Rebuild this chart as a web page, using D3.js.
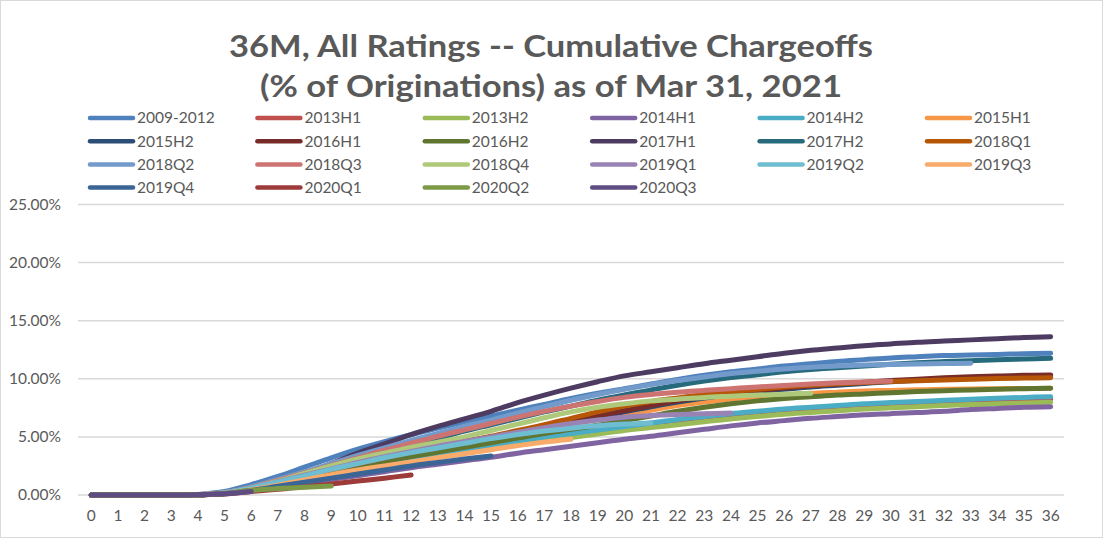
<!DOCTYPE html>
<html>
<head>
<meta charset="utf-8">
<script src="https://cdn.jsdelivr.net/npm/d3@7"></script>
<style>
  html, body { margin: 0; padding: 0; background: #fff; }
  svg { display: block; }
  text { font-family: Lato, "Open Sans", "Liberation Sans", sans-serif; fill: #595959; }
</style>
</head>
<body>
<svg id="chart" width="1103" height="538"></svg>
<script>
// ---------- data ----------
const titleLines = ["36M, All Ratings -- Cumulative Chargeoffs", "(% of Originations) as of Mar 31, 2021"];
const months = d3.range(0, 37);
const xTickLabels = months.map(String);
const yTicks = [0, 5, 10, 15, 20, 25];

const seriesNames = ["2009-2012","2013H1","2013H2","2014H1","2014H2","2015H1",
  "2015H2","2016H1","2016H2","2017H1","2017H2","2018Q1",
  "2018Q2","2018Q3","2018Q4","2019Q1","2019Q2","2019Q3",
  "2019Q4","2020Q1","2020Q2","2020Q3"];
const seriesColors = ["#4F81BD","#C0504D","#9BBB59","#8064A2","#4BACC6","#F79646",
  "#2C4D75","#772C2A","#5F7530","#4D3B62","#276A7C","#B65708",
  "#729ACA","#CD7371","#AFC97A","#9983B5","#6FBDD1","#F9AB6B",
  "#3A6595","#9C3B39","#7D9A46","#5F4C82"];

// cumulative chargeoffs, % of originations, by months on book (0..)
const v2009_2012 = [0,0,0,0,0.05,0.3,0.9,1.6,2.4,3.2,3.95,4.6,5.2,5.75,6.3,6.8,7.3,7.8,8.3,8.75,9.15,9.55,9.95,10.3,10.6,10.85,11.1,11.3,11.5,11.65,11.8,11.9,12.0,12.05,12.1,12.15,12.2];
const v2013H1 = [0,0,0,0,0.02,0.12,0.45,0.9,1.4,1.85,2.3,2.75,3.15,3.55,3.9,4.25,4.6,4.9,5.2,5.5,5.8,6.05,6.3,6.55,6.8,7.0,7.2,7.35,7.5,7.65,7.8,7.9,8.0,8.08,8.15,8.2,8.25];
const v2013H2 = [0,0,0,0,0.02,0.12,0.42,0.85,1.3,1.75,2.2,2.6,3.0,3.35,3.7,4.0,4.35,4.65,4.95,5.25,5.55,5.8,6.05,6.3,6.55,6.75,6.95,7.1,7.25,7.4,7.5,7.6,7.7,7.78,7.85,7.92,7.98];
const v2014H1 = [0,0,0,0,0.02,0.1,0.35,0.65,1.0,1.35,1.65,2.0,2.35,2.65,2.95,3.25,3.6,3.9,4.2,4.5,4.8,5.05,5.35,5.65,5.95,6.2,6.4,6.6,6.75,6.9,7.0,7.1,7.2,7.35,7.45,7.55,7.6];
const v2014H2 = [0,0,0,0,0.02,0.12,0.45,0.9,1.4,1.9,2.35,2.8,3.2,3.6,3.95,4.3,4.65,5.0,5.3,5.6,5.9,6.2,6.5,6.75,7.0,7.2,7.4,7.55,7.7,7.85,7.95,8.05,8.15,8.25,8.33,8.4,8.46];
const v2015H1 = [0,0,0,0,0.02,0.15,0.5,1.0,1.55,2.1,2.65,3.15,3.65,4.1,4.55,4.95,5.35,5.75,6.1,6.5,6.9,7.3,7.7,8.0,8.25,8.45,8.6,8.75,8.85,8.95,9.0,9.05,9.1,9.13,9.15,9.17,9.18];
const v2015H2 = [0,0,0,0,0.02,0.14,0.48,0.97,1.5,2.05,2.6,3.1,3.6,4.05,4.5,4.95,5.4,5.85,6.3,6.7,7.15,7.6,8.0,8.35,8.65,8.9,9.1,9.3,9.45,9.6,9.75,9.87,9.98,10.07,10.14,10.2,10.25];
const v2016H1 = [0,0,0,0,0.02,0.15,0.5,1.0,1.55,2.1,2.65,3.15,3.65,4.1,4.55,5.0,5.45,5.9,6.35,6.8,7.25,7.7,8.1,8.45,8.75,9.0,9.2,9.4,9.55,9.7,9.85,9.97,10.08,10.17,10.24,10.3,10.33];
const v2016H2 = [0,0,0,0,0.02,0.12,0.45,0.9,1.4,1.9,2.4,2.85,3.3,3.7,4.1,4.5,4.9,5.3,5.65,6.0,6.4,6.8,7.2,7.55,7.85,8.1,8.3,8.45,8.6,8.7,8.8,8.9,8.98,9.04,9.1,9.15,9.18];
const v2017H1 = [0,0,0,0,0.02,0.12,0.4,1.0,1.8,2.7,3.6,4.4,5.2,5.9,6.55,7.2,7.95,8.6,9.2,9.75,10.25,10.6,10.95,11.3,11.6,11.9,12.2,12.45,12.65,12.85,13.0,13.15,13.25,13.35,13.45,13.55,13.62];
const v2017H2 = [0,0,0,0,0.02,0.15,0.55,1.1,1.75,2.4,3.05,3.7,4.3,4.9,5.5,6.05,6.6,7.15,7.65,8.15,8.6,9.05,9.45,9.8,10.1,10.35,10.6,10.8,10.95,11.1,11.25,11.38,11.48,11.56,11.64,11.7,11.76];
const v2018Q1 = [0,0,0,0,0.02,0.15,0.5,1.0,1.6,2.15,2.7,3.2,3.7,4.15,4.6,5.05,5.55,6.05,6.6,7.15,7.65,8.05,8.35,8.65,8.9,9.1,9.3,9.45,9.58,9.68,9.76,9.83,9.9,9.96,10.02,10.06,10.1];
const v2018Q2 = [0,0,0,0,0.03,0.2,0.7,1.35,2.0,2.7,3.4,4.05,4.7,5.3,5.9,6.45,7.05,7.6,8.15,8.65,9.1,9.5,9.85,10.15,10.45,10.65,10.85,11.0,11.1,11.18,11.24,11.28,11.31,11.33];
const v2018Q3 = [0,0,0,0,0.03,0.2,0.65,1.25,1.9,2.55,3.2,3.85,4.45,5.05,5.6,6.15,6.7,7.2,7.65,8.05,8.4,8.65,8.85,9.0,9.15,9.3,9.43,9.55,9.65,9.73,9.8];
const v2018Q4 = [0,0,0,0,0.03,0.2,0.6,1.2,1.85,2.5,3.1,3.6,4.1,4.55,5.0,5.55,6.1,6.65,7.15,7.55,7.85,8.1,8.25,8.4,8.5,8.6,8.68,8.75];
const v2019Q1 = [0,0,0,0,0.03,0.2,0.6,1.15,1.7,2.25,2.8,3.3,3.75,4.2,4.6,5.0,5.4,5.8,6.15,6.45,6.7,6.85,6.93,7.0,7.05];
const v2019Q2 = [0,0,0,0,0.03,0.2,0.6,1.1,1.65,2.2,2.7,3.2,3.65,4.05,4.45,4.85,5.2,5.5,5.75,5.95,6.1,6.2];
const v2019Q3 = [0,0,0,0,0.03,0.15,0.45,0.85,1.3,1.75,2.15,2.5,2.85,3.2,3.55,3.9,4.25,4.55,4.8];
const v2019Q4 = [0,0,0,0,0.02,0.12,0.4,0.75,1.1,1.45,1.8,2.15,2.5,2.8,3.1,3.36];
const v2020Q1 = [0,0,0,0,0.02,0.08,0.3,0.5,0.7,0.95,1.2,1.45,1.72];
const v2020Q2 = [0,0,0,0,0.01,0.1,0.4,0.55,0.66,0.77];
const v2020Q3 = [0,0,0,0,0.02,0.1,0.3];

const seriesValues = [v2009_2012,v2013H1,v2013H2,v2014H1,v2014H2,v2015H1,
  v2015H2,v2016H1,v2016H2,v2017H1,v2017H2,v2018Q1,
  v2018Q2,v2018Q3,v2018Q4,v2019Q1,v2019Q2,v2019Q3,
  v2019Q4,v2020Q1,v2020Q2,v2020Q3];

// ---------- chart ----------
const W = 1103, H = 538;
const plot = {left: 78, right: 1064, top: 204.5, bottom: 495};
const svg = d3.select("#chart");

svg.append("rect").attr("x", 0.5).attr("y", 0.5).attr("width", W - 1).attr("height", H - 1)
  .attr("fill", "#fff").attr("stroke", "#D9D9D9").attr("stroke-width", 1);

const x = d3.scaleBand().domain(months).range([plot.left, plot.right]);
const xc = m => x(m) + x.bandwidth() / 2;
const y = d3.scaleLinear().domain([0, 25]).range([plot.bottom, plot.top]);

// gridlines
svg.append("g").selectAll("line").data(yTicks).join("line")
  .attr("x1", plot.left).attr("x2", plot.right)
  .attr("y1", d => y(d)).attr("y2", d => y(d))
  .attr("stroke", "#D9D9D9").attr("stroke-width", 1.5);

// y axis labels
const yAxis = d3.axisLeft(y).tickValues(yTicks).tickSize(0).tickPadding(17)
  .tickFormat(d => d.toFixed(2) + "%");
const gy = svg.append("g").attr("transform", `translate(${plot.left},0)`).call(yAxis);
gy.select(".domain").remove();
gy.selectAll("text").attr("font-size", 15.5).attr("fill", "#595959")
  .style("font-family", "Lato, 'Open Sans', sans-serif");

// x axis labels
const xAxis = d3.axisBottom(x).tickSize(0).tickPadding(15).tickFormat((d, i) => xTickLabels[i]);
const gx = svg.append("g").attr("transform", `translate(0,${plot.bottom})`).call(xAxis);
gx.select(".domain").remove();
gx.selectAll("text").attr("font-size", 15.5).attr("fill", "#595959")
  .style("font-family", "Lato, 'Open Sans', sans-serif");

// lines
const line = d3.line().x((d, i) => xc(i)).y(d => y(d)).curve(d3.curveCatmullRom.alpha(0.5));
svg.append("g").selectAll("path").data(seriesValues).join("path")
  .attr("d", d => line(d))
  .attr("fill", "none")
  .attr("stroke", (d, i) => seriesColors[i])
  .attr("stroke-width", 5)
  .attr("stroke-linecap", "round")
  .attr("stroke-linejoin", "round");

// title
const title = svg.append("g");
title.selectAll("text").data(titleLines).join("text")
  .attr("x", 551).attr("y", (d, i) => 57 + i * 40)
  .attr("text-anchor", "middle")
  .attr("font-size", 31).attr("font-weight", "bold")
  .attr("fill", "#595959")
  .attr("textLength", (d, i) => [644, 582][i])
  .attr("lengthAdjust", "spacingAndGlyphs")
  .text(d => d);

// legend
const legendCols = 6, colStep = 167.4, legX0 = 90, legY0 = 118, rowStep = 23.2;
const leg = svg.append("g").selectAll("g").data(seriesNames).join("g")
  .attr("transform", (d, i) => `translate(${legX0 + (i % legendCols) * colStep},${legY0 + Math.floor(i / legendCols) * rowStep})`);
leg.append("line")
  .attr("x1", 0).attr("x2", 43).attr("y1", 0).attr("y2", 0)
  .attr("stroke", (d, i) => seriesColors[i])
  .attr("stroke-width", 4.5).attr("stroke-linecap", "round");
leg.append("text")
  .attr("x", 47).attr("y", 0).attr("dy", "0.35em")
  .attr("font-size", 15.5).attr("fill", "#595959")
  .text(d => d);
</script>
</body>
</html>
